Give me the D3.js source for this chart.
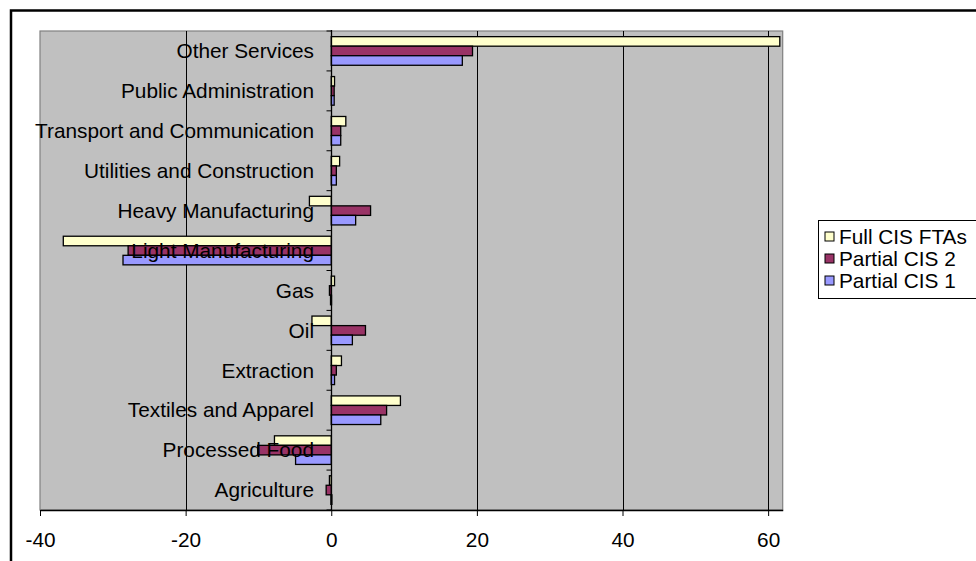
<!DOCTYPE html>
<html>
<head>
<meta charset="utf-8">
<script src="https://cdn.jsdelivr.net/npm/d3@7"></script>
<style>
  html, body { margin: 0; padding: 0; background: #ffffff; }
  svg { display: block; }
  text { font-family: "Liberation Sans", Arial, sans-serif; }
</style>
</head>
<body>
<div id="chart"></div>
<script>
// ---- Data ----
const categories = [
  "Agriculture", "Processed Food", "Textiles and Apparel", "Extraction", "Oil", "Gas",
  "Light Manufacturing", "Heavy Manufacturing", "Utilities and Construction",
  "Transport and Communication", "Public Administration", "Other Services"
];
const seriesNames = ["Full CIS FTAs", "Partial CIS 2", "Partial CIS 1"];
const fullCISFTAs = [-0.25, -7.8, 9.5, 1.4, -2.65, 0.45, -36.8, -3.0, 1.15, 2.0, 0.45, 61.6];
const partialCIS2 = [-0.7, -10.1, 7.6, 0.7, 4.7, -0.25, -27.9, 5.4, 0.7, 1.3, 0.4, 19.4];
const partialCIS1 = [-0.05, -4.9, 6.8, 0.45, 2.9, -0.1, -28.6, 3.35, 0.7, 1.3, 0.4, 18.0];
const xTicks = [-40, -20, 0, 20, 40, 60];

const seriesValues = [fullCISFTAs, partialCIS2, partialCIS1];
const colors = ["#FFFFCC", "#993366", "#9999FF"];

const W = 976, H = 561;
const plot = { left: 40, right: 782.7, top: 31, bottom: 510 };
const FS = 20.8;

const svg = d3.select("#chart").append("svg").attr("width", W).attr("height", H);

// outer frame
svg.append("rect")
  .attr("x", 11).attr("y", 10.5).attr("width", 1000).attr("height", 600)
  .attr("fill", "none").attr("stroke", "#000").attr("stroke-width", 2.5);

const x = d3.scaleLinear().domain([-40, 62]).range([plot.left, plot.right]);
const y = d3.scaleBand().domain(categories.slice().reverse())
  .range([plot.top, plot.bottom]).paddingInner(0.283).paddingOuter(0.1415);
const ySub = d3.scaleBand().domain(seriesNames).range([0, y.bandwidth()]);

// plot area
svg.append("rect")
  .attr("x", plot.left).attr("y", plot.top)
  .attr("width", plot.right - plot.left).attr("height", plot.bottom - plot.top)
  .attr("fill", "#C0C0C0").attr("stroke", "#808080").attr("stroke-width", 1.2);

// gridlines
svg.append("g").selectAll("line")
  .data(xTicks.filter(t => t !== 0 && t !== -40))
  .join("line")
  .attr("x1", d => Math.round(x(d)) + 0.5).attr("x2", d => Math.round(x(d)) + 0.5)
  .attr("y1", plot.top).attr("y2", plot.bottom)
  .attr("stroke", "#000").attr("stroke-width", 1);

// bars
const rows = categories.map((c, i) => ({ c, vals: seriesValues.map((s, k) => ({ name: seriesNames[k], v: s[i], color: colors[k] })) }));
const groups = svg.append("g").selectAll("g").data(rows).join("g")
  .attr("transform", d => `translate(0,${y(d.c)})`);
groups.selectAll("rect").data(d => d.vals).join("rect")
  .attr("x", d => x(Math.min(0, d.v)))
  .attr("width", d => Math.max(1, Math.abs(x(d.v) - x(0))))
  .attr("y", d => ySub(d.name))
  .attr("height", ySub.bandwidth())
  .attr("fill", d => d.color)
  .attr("stroke", "#000").attr("stroke-width", 1.3);

// category axis at zero
const x0 = Math.round(x(0)) + 0.5;
svg.append("line").attr("x1", x0).attr("x2", x0).attr("y1", plot.top - 1).attr("y2", plot.bottom)
  .attr("stroke", "#000").attr("stroke-width", 1.3);
const boundaries = categories.map(c => y(c) - y.step() * y.paddingInner() / 2).concat([plot.bottom]);
svg.append("g").selectAll("line").data(boundaries).join("line")
  .attr("x1", x0 - 5).attr("x2", x0).attr("y1", d => d).attr("y2", d => d)
  .attr("stroke", "#000").attr("stroke-width", 1);

// category labels (drawn above bars)
svg.append("g").selectAll("text").data(categories).join("text")
  .attr("x", 314).attr("y", d => y(d) + y.bandwidth() / 2)
  .attr("dy", "0.35em").attr("text-anchor", "end")
  .attr("font-size", FS).attr("fill", "#000").text(d => d);

// x axis
const xAxis = d3.axisBottom(x).tickValues(xTicks).tickSize(6).tickSizeOuter(0).tickPadding(16)
  .tickFormat(d => String(d));
const gx = svg.append("g").attr("transform", `translate(0,${plot.bottom})`).call(xAxis);
gx.select(".domain").attr("stroke", "#000").attr("stroke-width", 1.3);
gx.selectAll(".tick line").attr("stroke", "#000");
gx.selectAll(".tick text").attr("font-size", FS).attr("fill", "#000")
  .attr("font-family", "'Liberation Sans', Arial, sans-serif");

// legend
const lg = svg.append("g");
lg.append("rect").attr("x", 818.5).attr("y", 220.5).attr("width", 200).attr("height", 78)
  .attr("fill", "#fff").attr("stroke", "#000").attr("stroke-width", 1);
const ly = d3.scalePoint().domain(seriesNames).range([237, 281]);
const items = lg.selectAll("g.item").data(seriesNames).join("g").attr("class", "item")
  .attr("transform", d => `translate(0,${ly(d)})`);
items.append("rect").attr("x", 825).attr("y", -5).attr("width", 9).attr("height", 9)
  .attr("fill", (d, i) => colors[i]).attr("stroke", "#000").attr("stroke-width", 1);
items.append("text").attr("x", 839).attr("y", 0).attr("dy", "0.35em")
  .attr("font-size", FS).attr("fill", "#000").text(d => d);
</script>
</body>
</html>
